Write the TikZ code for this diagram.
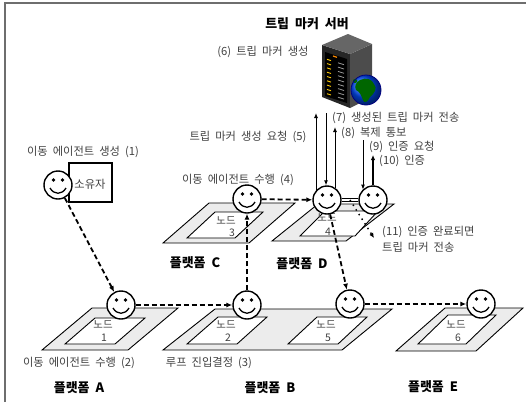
\documentclass[tikz,border=0pt]{standalone}
\usepackage{fontspec}
\setmainfont{Noto Sans CJK KR}[WordSpace=2]
\usetikzlibrary{arrows.meta}
\definecolor{txt}{RGB}{64,64,64}
\definecolor{plat}{RGB}{236,236,236}
\definecolor{frame}{RGB}{110,110,110}
\tikzset{
  face/.style={circle, draw, line width=1.4bp, fill=white, minimum size=28bp, inner sep=0pt,
    path picture={
      \fill[black] ([xshift=-4.5bp,yshift=5bp]path picture bounding box.center) circle (1.8bp);
      \fill[black] ([xshift=4.5bp,yshift=5bp]path picture bounding box.center) circle (1.8bp);
      \draw[black, line width=1.3bp] ([xshift=-8bp,yshift=-3bp]path picture bounding box.center)
        .. controls ([xshift=-4bp,yshift=-10bp]path picture bounding box.center)
        and ([xshift=4bp,yshift=-10bp]path picture bounding box.center)
        .. ([xshift=8bp,yshift=-3bp]path picture bounding box.center);
    }},
  platout/.style={draw, line width=0.9bp, fill=plat},
  platin/.style={draw, line width=0.9bp, fill=white},
  lbl/.style={font=\fontsize{11.3}{13}\selectfont, text=txt, inner sep=0pt},
  nodelbl/.style={font=\fontsize{10.5}{12}\selectfont, text=txt, inner sep=0pt},
  plname/.style={font=\fontsize{13}{15}\selectfont\bfseries, inner sep=0pt},
  move/.style={line width=1.8bp, dash pattern=on 5bp off 3bp, -{Latex[length=6bp,width=5bp]}},
  msg/.style={line width=0.9bp, -{Latex[length=5bp,width=4bp]}},
  msgthick/.style={line width=1.8bp, -{Latex[length=5bp,width=4.5bp]}},
  hand/.style={line width=1.4bp, dash pattern=on 1.5bp off 4bp, -{Latex[length=5bp,width=4.5bp]}},
}
\begin{document}
\begin{tikzpicture}[x=1bp,y=-1bp]
\useasboundingbox (0,0) rectangle (526,402);

% frame
\draw[frame, line width=1.2bp] (5,402) -- (5,3) -- (526,3);

% platform A
\draw[platout] (92,308) -- (178,308) -- (128,350) -- (42,350) -- cycle;
\draw[platin] (95,318) -- (145,318) -- (115,344) -- (65,344) -- cycle;
% platform B (nodes 2 and 5)
\draw[platout] (215,309) -- (392,309) -- (342,350) -- (163,350) -- cycle;
\draw[platin] (218,317) -- (267,317) -- (237,344) -- (187,344) -- cycle;
\draw[platin] (317,317) -- (367,317) -- (338,344) -- (288,344) -- cycle;
% platform E
\draw[platout] (445,308) -- (523,308) -- (476,351) -- (396,351) -- cycle;
\draw[platin] (448,315) -- (496,315) -- (466,344) -- (418,344) -- cycle;
% platform C
\draw[platout] (209,203) -- (295,203) -- (249,243) -- (163,243) -- cycle;
\draw[platin] (215,212) -- (263,212) -- (235,238) -- (187,238) -- cycle;
% platform D
\draw[platout] (318,204) -- (394,204) -- (346,241) -- (272,241) -- cycle;
\draw[platin] (325,211) -- (378,211) -- (355,236) -- (300,236) -- cycle;

% node labels
\node[nodelbl] at (103,325) {노드};
\node[nodelbl] at (104,338) {1};
\node[nodelbl] at (226,325) {노드};
\node[nodelbl] at (228,338) {2};
\node[nodelbl] at (226,221) {노드};
\node[nodelbl] at (232,233) {3};
\node[nodelbl] at (327,218) {노드};
\node[nodelbl] at (328,232) {4};
\node[nodelbl] at (326,325) {노드};
\node[nodelbl] at (328,338) {5};
\node[nodelbl] at (456,325) {노드};
\node[nodelbl] at (458,338) {6};

% owner box
\draw[line width=2bp] (69,163) rectangle (112,202);
\node[lbl] (ownerlbl) at (90,184) {소유자};

% server
\fill[black!85] (322,45) -- (350,54) -- (350,108) -- (322,97) -- cycle;
\fill[black!70] (350,54) -- (372,44) -- (372,97) -- (350,108) -- cycle;
\fill[black!60] (322,45) -- (348,34) -- (372,44) -- (350,54) -- cycle;
\fill[black] (325,52) -- (347,59) -- (347,103) -- (325,96) -- cycle;
\draw[orange!90!yellow, line width=1.2bp] (333,56) -- (337,57.3);
\foreach \i in {1,...,9} {
  \draw[yellow!60!orange, line width=0.9bp] (327,55+4.3*\i) -- (331,56.3+4.3*\i);
  \draw[black!40, line width=0.8bp] (338,58.5+4.3*\i) -- (344,60.4+4.3*\i);
}
\shade[ball color=blue!70!cyan] (366,90) circle (15);
\fill[green!40!black] (360,80) .. controls (366,77) and (372,79) .. (374,84)
  .. controls (378,88) and (374,94) .. (370,97) .. controls (368,102) and (364,104) .. (363,100)
  .. controls (361,95) and (360,92) .. (356,90) .. controls (354,86) and (356,82) .. (360,80) -- cycle;
\fill[green!40!black] (353,80) .. controls (355,78) and (358,79) .. (357,82) .. controls (355,84) and (353,83) .. (353,80) -- cycle;
\draw[blue!50!black, line width=0.8bp] (366,90) circle (15);

% agents
\node[face] (owner) at (58,185) {};
\node[face] (n1) at (121,305) {};
\node[face] (n2) at (247,305) {};
\node[face] (n3) at (247,199) {};
\node[face] (n4) at (327,200) {};
\node[face] (n4b) at (373,200) {};
\node[face] (n5) at (350,304) {};
\node[face] (n6) at (481,304) {};

% agent migration
\draw[move] (owner) -- (n1);
\draw[move] (n1) -- (n2);
\draw[move] (n2) -- (n3);
\draw[move] (n3) -- (n4);
\draw[move] (n4) -- (n5);
\draw[move] (n5) -- (n6);

% replica link and hand-over of the marker
\draw[line width=0.8bp, double, double distance=2.2bp] (n4) -- coordinate (mid) (n4b);
\coordinate (e11) at (374,238);
\draw[hand] (mid) -- (e11);

% messages with the server
\coordinate (t5) at (316,113);
\coordinate (t7) at (326,113);
\coordinate (t8) at (335,127);
\coordinate (t9) at (363,140);
\coordinate (t10) at (373,155);
\draw[msg] (t5 |- n4.142) -- (t5);
\draw[msg] (t7) -- (t7 |- n4.north);
\draw[msg] (t8 |- n4.55) -- (t8);
\draw[msg] (t9) -- (t9 |- n4b.135);
\draw[msgthick] (n4b.north) -- (t10);

% texts
\node[plname] (srv) at (307,24) {트립 마커 서버};
\node[lbl] at (263,52) {(6) 트립 마커 생성};
\node[lbl] at (248,137) {트립 마커 생성 요청 (5)};
\node[lbl] at (83,152) {이동 에이전트 생성 (1)};
\node[lbl] at (238,180) {이동 에이전트 수행 (4)};
\node[lbl, anchor=west] at (332,118) {(7) 생성된 트립 마커 전송};
\node[lbl, anchor=west] at (341,133) {(8) 복제 통보};
\node[lbl, anchor=west] at (369,147) {(9) 인증 요청};
\node[lbl, anchor=west] at (379,161) {(10) 인증};
\node[lbl, anchor=west] at (382,232) {(11) 인증 완료되면};
\node[lbl, anchor=west] at (382,247) {트립 마커 전송};
\node[lbl] at (79,363) {이동 에이전트 수행 (2)};
\node[lbl] at (209,363) {루프 진입결정 (3)};

\node[plname] at (79,388) {플랫폼 A};
\node[plname] at (270,388) {플랫폼 B};
\node[plname] at (195,263) {플랫폼 C};
\node[plname] at (302,264) {플랫폼 D};
\node[plname] at (433,387) {플랫폼 E};
\end{tikzpicture}
\end{document}
